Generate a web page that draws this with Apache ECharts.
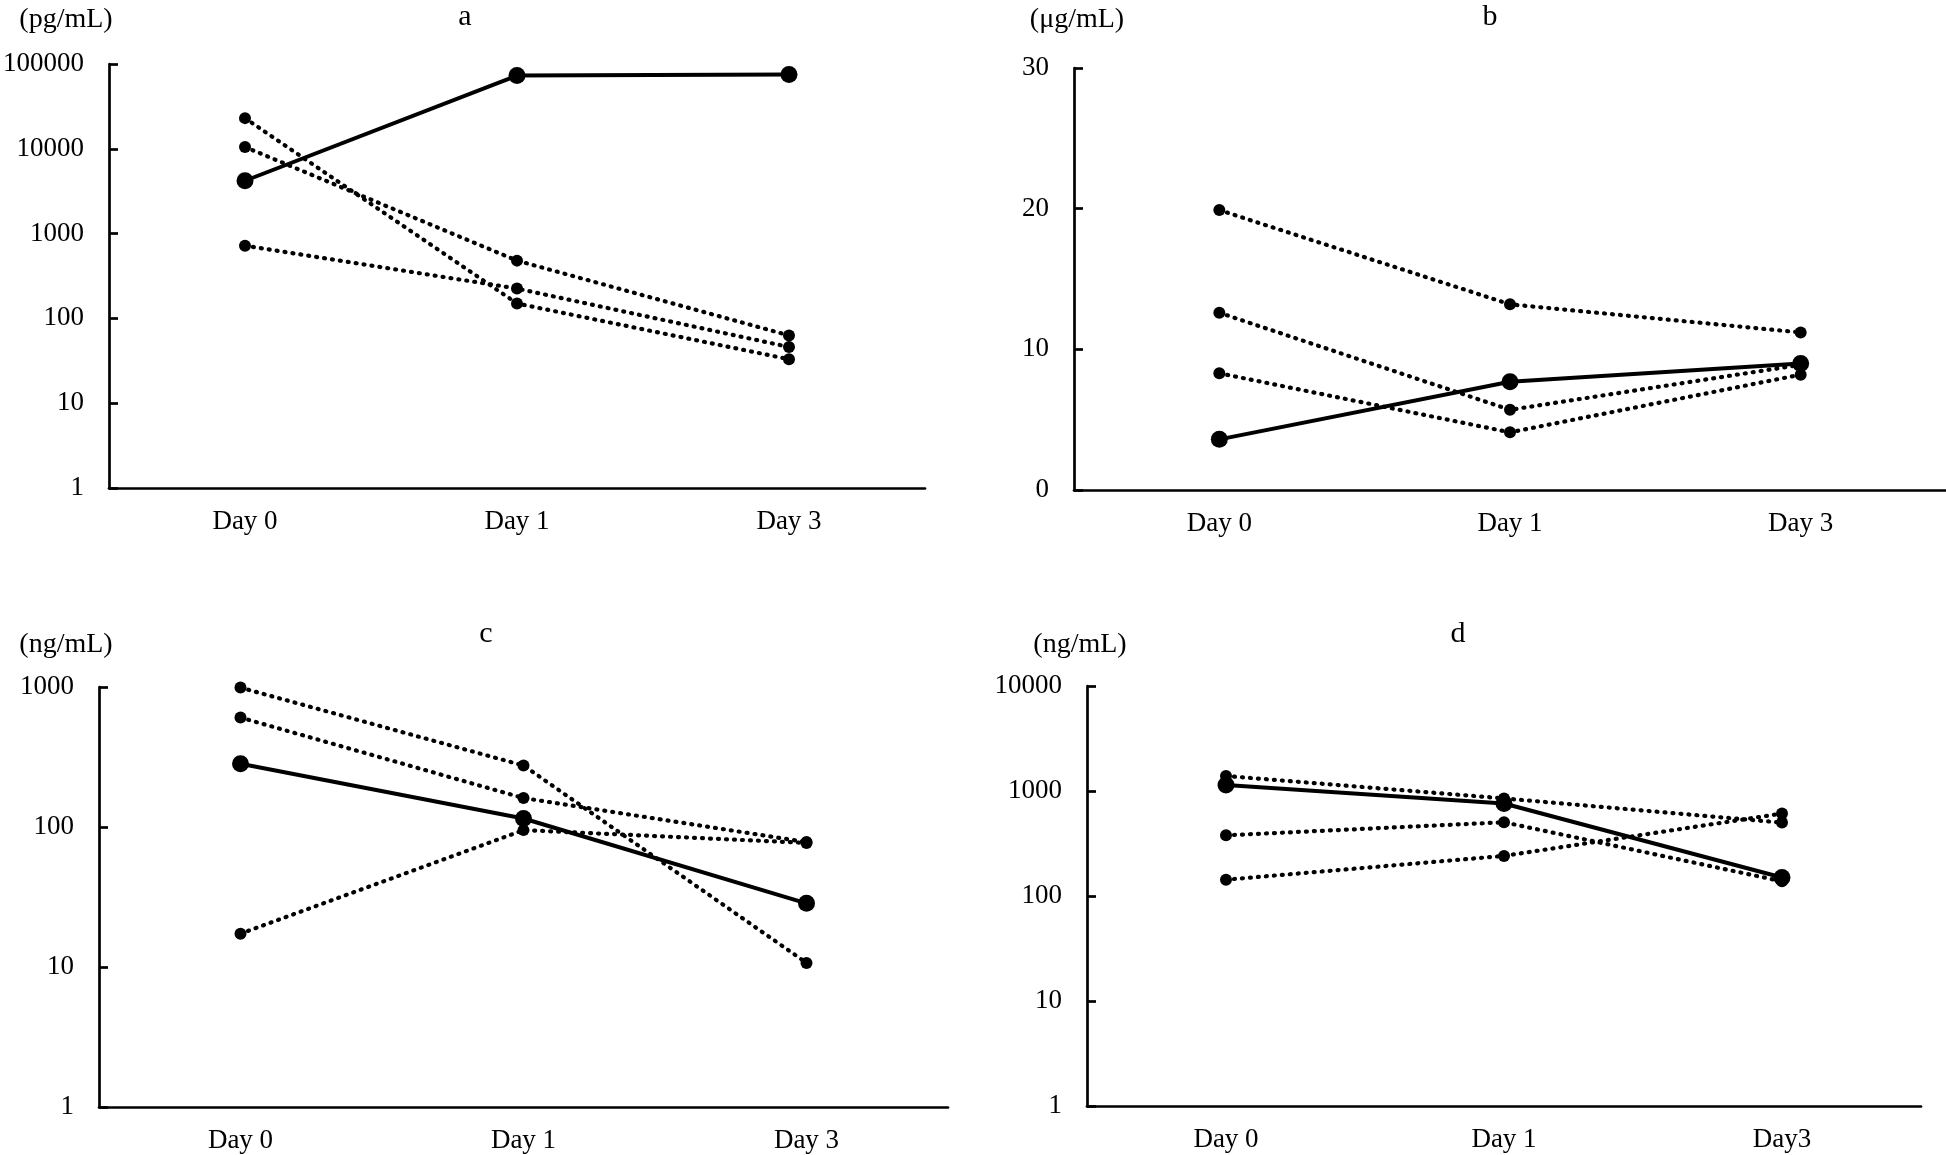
<!DOCTYPE html>
<html>
<head>
<meta charset="utf-8">
<script src="https://cdn.jsdelivr.net/npm/echarts@6/dist/echarts.min.js"></script>
<style>
html,body{margin:0;padding:0;background:#fff;}
#chart{width:1946px;height:1155px;}
</style>
</head>
<body>
<div id="chart"></div>
<script>
// categories
const daysABC = ['Day 0', 'Day 1', 'Day 3'];
const daysD = ['Day 0', 'Day 1', 'Day3'];

// panel a (pg/mL, log)
const aSolid = [4200, 73000, 75000];
const aDot1 = [23000, 150, 33];
const aDot2 = [10500, 480, 63];
const aDot3 = [720, 225, 46];

// panel b (µg/mL, linear)
const bSolid = [3.6, 7.7, 9.0];
const bDot1 = [19.9, 13.2, 11.2];
const bDot2 = [12.6, 5.7, 8.9];
const bDot3 = [8.3, 4.1, 8.2];

// panel c (ng/mL, log)
const cSolid = [283, 115, 28.5];
const cDot1 = [990, 275, 10.7];
const cDot2 = [605, 161, 78];
const cDot3 = [17.3, 95, 77];

// panel d (ng/mL, log)
const dSolid = [1140, 760, 150];
const dDot1 = [1390, 850, 500];
const dDot2 = [378, 504, 138];
const dDot3 = [143, 241, 610];

// labels
const panelTitles = ['a', 'b', 'c', 'd'];
const unitLabels = ['(pg/mL)', '(\u03bcg/mL)', '(ng/mL)', '(ng/mL)'];

const FONT = "'Liberation Serif', 'Times New Roman', serif";
const FS = 27;

const grids = [
  {left: 106, top: 64, width: 819, height: 424},
  {left: 1074, top: 68, width: 872, height: 422},
  {left: 99, top: 687, width: 849, height: 420},
  {left: 1087, top: 686, width: 834, height: 420}
];

function xAx(i, cats) {
  return {
    type: 'category', gridIndex: i, data: cats, boundaryGap: true,
    axisLine: {lineStyle: {color: '#000', width: 2.7}},
    axisTick: {show: false},
    axisLabel: {color: '#000', fontFamily: FONT, fontSize: FS, margin: 20},
    splitLine: {show: false}
  };
}
function yAx(i, isLog, min, max, interval) {
  const o = {
    type: isLog ? 'log' : 'value', gridIndex: i, min: min, max: max,
    axisLine: {show: true, lineStyle: {color: '#000', width: 2.7}},
    axisTick: {show: true, inside: true, length: 9, lineStyle: {color: '#000', width: 2.7}},
    axisLabel: {color: '#000', fontFamily: FONT, fontSize: FS, margin: 25,
      formatter: v => String(Math.round(v))},
    splitLine: {show: false}
  };
  if (isLog) o.logBase = 10; else o.interval = interval;
  return o;
}

function solid(i, data) {
  return {
    type: 'line', xAxisIndex: i, yAxisIndex: i, data: data, z: 5,
    symbol: 'circle', symbolSize: 17,
    itemStyle: {color: '#000'},
    lineStyle: {color: '#000', width: 4, type: 'solid'},
    animation: false
  };
}
function dotted(i, data) {
  return {
    type: 'line', xAxisIndex: i, yAxisIndex: i, data: data, z: 3,
    symbol: 'circle', symbolSize: 12,
    itemStyle: {color: '#000'},
    lineStyle: {color: '#000', width: 4.2, type: [1, 7], cap: 'round'},
    animation: false
  };
}

const titlePos = [[465, 17], [1490, 17], [486, 634], [1458, 634]];
const unitPos = [[66, 20], [1077, 20], [66, 645], [1080, 645]];

const graphics = [];
for (let i = 0; i < 4; i++) {
  graphics.push({type: 'text', x: titlePos[i][0], y: titlePos[i][1],
    style: {text: panelTitles[i], fill: '#000', font: '30px ' + FONT, textAlign: 'center', textVerticalAlign: 'middle'}});
  graphics.push({type: 'text', x: unitPos[i][0], y: unitPos[i][1],
    style: {text: unitLabels[i], fill: '#000', font: '28px ' + FONT, textAlign: 'center', textVerticalAlign: 'middle'}});
}

const option = {
  backgroundColor: '#fff',
  animation: false,
  grid: grids,
  xAxis: [xAx(0, daysABC), xAx(1, daysABC), xAx(2, daysABC), xAx(3, daysD)],
  yAxis: [yAx(0, true, 1, 100000), yAx(1, false, 0, 30, 10), yAx(2, true, 1, 1000), yAx(3, true, 1, 10000)],
  series: [
    dotted(0, aDot1), dotted(0, aDot2), dotted(0, aDot3), solid(0, aSolid),
    dotted(1, bDot1), dotted(1, bDot2), dotted(1, bDot3), solid(1, bSolid),
    dotted(2, cDot1), dotted(2, cDot2), dotted(2, cDot3), solid(2, cSolid),
    dotted(3, dDot1), dotted(3, dDot2), dotted(3, dDot3), solid(3, dSolid)
  ],
  graphic: graphics
};

const chart = echarts.init(document.getElementById('chart'), null, {renderer: 'canvas'});
chart.setOption(option);
</script>
</body>
</html>
